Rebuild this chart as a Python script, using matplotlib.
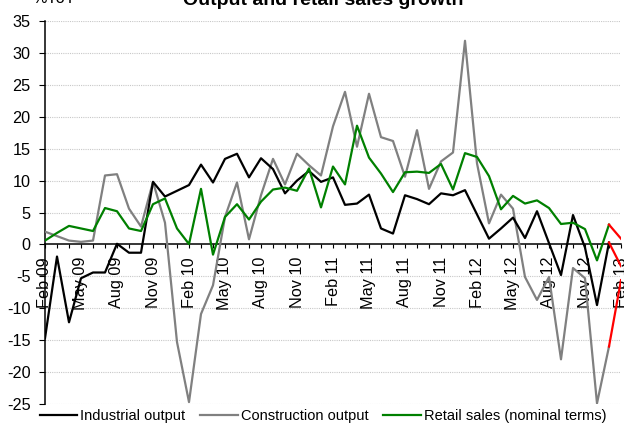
import matplotlib
matplotlib.use("Agg")
import matplotlib.pyplot as plt
import numpy as np

# ---- data (Feb 09 .. Feb 13, monthly, %YoY) ----
months = ["Feb 09", "Mar 09", "Apr 09", "May 09", "Jun 09", "Jul 09", "Aug 09", "Sep 09", "Oct 09",
          "Nov 09", "Dec 09", "Jan 10", "Feb 10", "Mar 10", "Apr 10", "May 10", "Jun 10", "Jul 10",
          "Aug 10", "Sep 10", "Oct 10", "Nov 10", "Dec 10", "Jan 11", "Feb 11", "Mar 11", "Apr 11",
          "May 11", "Jun 11", "Jul 11", "Aug 11", "Sep 11", "Oct 11", "Nov 11", "Dec 11", "Jan 12",
          "Feb 12", "Mar 12", "Apr 12", "May 12", "Jun 12", "Jul 12", "Aug 12", "Sep 12", "Oct 12",
          "Nov 12", "Dec 12", "Jan 13", "Feb 13"]

industrial = [-14.7, -1.9, -12.2, -5.3, -4.4, -4.4, 0.1, -1.3, -1.3, 9.8, 7.5, 8.4, 9.3, 12.5,
              9.7, 13.4, 14.2, 10.5, 13.5, 11.8, 8.0, 10.0, 11.5, 9.8, 10.5, 6.2, 6.4, 7.8, 2.5,
              1.7, 7.7, 7.1, 6.3, 8.0, 7.7, 8.5, 4.7, 0.9, 2.5, 4.2, 1.0, 5.2, 0.2, -4.8, 4.6,
              -0.5, -9.5, 0.3, -3.4]

construction = [2.0, 1.3, 0.6, 0.4, 0.6, 10.8, 11.0, 5.6, 2.8, 9.8, 3.4, -15.3, -24.7, -10.9,
                -6.4, 4.3, 9.7, 0.8, 7.7, 13.4, 9.4, 14.2, 12.4, 10.8, 18.5, 23.9, 15.3, 23.6,
                16.8, 16.2, 10.6, 17.9, 8.7, 13.0, 14.4, 31.9, 12.7, 3.3, 7.8, 5.6, -5.1, -8.7,
                -5.1, -18.0, -3.7, -5.3, -24.9, -16.0, -5.6]

retail = [0.6, 1.8, 2.9, 2.5, 2.1, 5.7, 5.2, 2.5, 2.1, 6.3, 7.2, 2.5, 0.05, 8.7, -1.6, 4.3, 6.3,
          3.9, 6.7, 8.6, 8.9, 8.4, 11.9, 5.8, 12.2, 9.4, 18.6, 13.6, 11.1, 8.2, 11.3, 11.4, 11.2,
          12.6, 8.6, 14.3, 13.7, 10.7, 5.5, 7.6, 6.4, 6.9, 5.7, 3.2, 3.4, 2.4, -2.5, 3.1, 0.9]

tick_labels = months[::3]
y_ticks = list(range(-25, 40, 5))

plt.rcParams["font.family"] = ["Liberation Sans", "DejaVu Sans"]
fs = 11.7

fig = plt.figure(figsize=(6.24, 4.26), dpi=100)
ax = fig.add_axes([45 / 624, 1 - 404 / 426, (621 - 45) / 624, (404 - 21) / 426])

x = np.arange(len(months))
series = [("Construction output", construction, "#808080"),
          ("Industrial output", industrial, "#000000"),
          ("Retail sales (nominal terms)", retail, "#008000")]
handles = {}
for name, vals, col in series:
    vals = np.asarray(vals)
    h, = ax.plot(x[:-1], vals[:-1], color=col, lw=1.6, label=name, zorder=3)
    ax.plot(x[-2:], vals[-2:], color="#ff0000", lw=1.6, zorder=4)
    handles[name] = h

ax.set_xlim(0, len(months) - 1)
ax.set_ylim(-25, 35)
ax.set_yticks(y_ticks)
ax.set_yticklabels([str(v) for v in y_ticks], fontsize=fs)
ax.tick_params(axis="y", direction="out", length=4.5, width=0.8, pad=6)

for v in y_ticks:
    if v != 0:
        ax.axhline(v, color="#c8c8c8", lw=0.8, ls=(0, (1, 1)), zorder=1)

ax.spines["bottom"].set_position(("data", 0))
ax.spines["top"].set_visible(False)
ax.spines["right"].set_visible(False)
ax.spines["left"].set_linewidth(1.1)
ax.spines["bottom"].set_linewidth(1.1)
ax.set_xticks(x, minor=True)
ax.set_xticks(x[::3])
ax.set_xticklabels(tick_labels, rotation=90, fontsize=fs)
ax.tick_params(axis="x", which="both", direction="out", length=3, width=0.8, pad=6)

order = ["Industrial output", "Construction output", "Retail sales (nominal terms)"]
fig.legend([handles[n] for n in order], order, loc="center", bbox_to_anchor=(323 / 624, 1 - 416 / 426),
           ncol=3, frameon=False, fontsize=10.5, handlelength=2.6, handletextpad=0.2,
           columnspacing=1.0, borderpad=0, borderaxespad=0)

fig.text(323 / 624, 1 - 5 / 426, "Output and retail sales growth", ha="center", va="baseline",
         fontsize=14, fontweight="bold")
fig.text(32 / 624, 1 - 3 / 426, "%YoY", ha="left", va="baseline", fontsize=fs)

fig.savefig("out.png", dpi=100)
